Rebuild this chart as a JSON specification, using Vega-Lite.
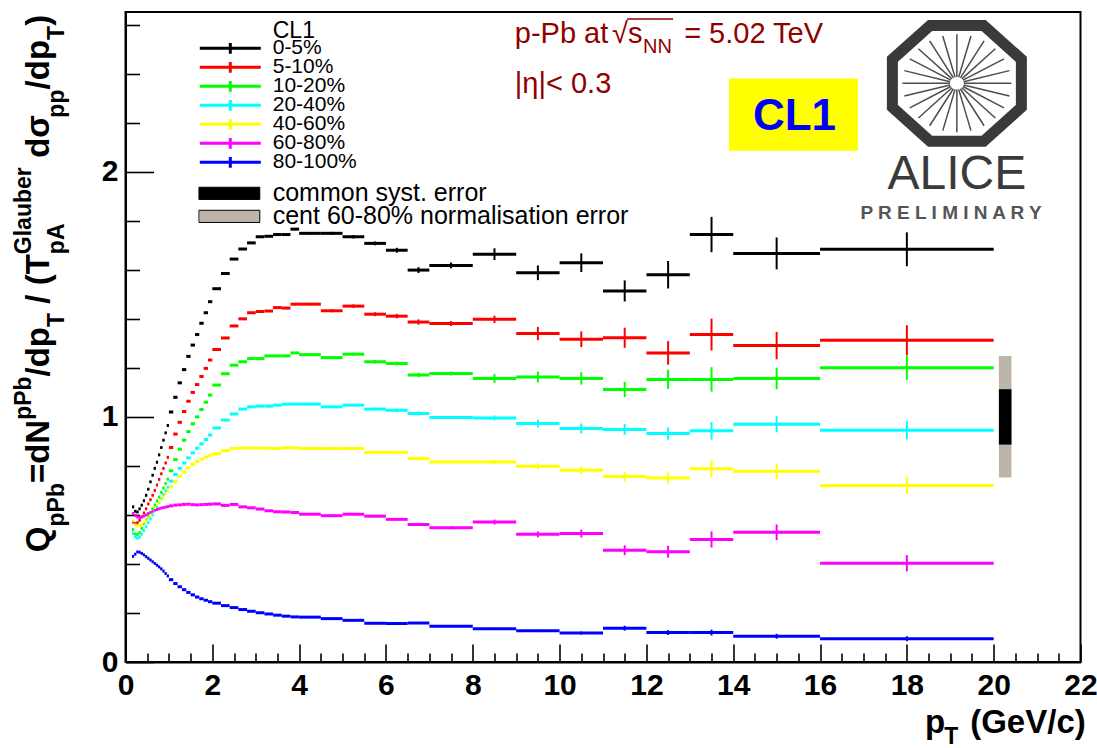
{
"$schema":"https://vega.github.io/schema/vega-lite/v6.json",
"width":955,"height":650,
"autosize":{"type":"none"},
"padding":{"left":125.5,"top":12,"right":16.5,"bottom":86},
"background":"white",
"config":{"font":"Liberation Sans","view":{"stroke":"#000","strokeWidth":2},"axis":{"grid":false,"domainColor":"#000","domainWidth":2,"tickColor":"#000","tickWidth":1.6,"labelColor":"#000"},"legend":{"padding":0}},
"datasets":{"q":[
{"c":"0-5%","x":0.175,"w":0.025,"v":0.633,"e":0.003},
{"c":"0-5%","x":0.225,"w":0.025,"v":0.615,"e":0.003},
{"c":"0-5%","x":0.275,"w":0.025,"v":0.612,"e":0.003},
{"c":"0-5%","x":0.325,"w":0.025,"v":0.625,"e":0.003},
{"c":"0-5%","x":0.375,"w":0.025,"v":0.64,"e":0.003},
{"c":"0-5%","x":0.425,"w":0.025,"v":0.658,"e":0.003},
{"c":"0-5%","x":0.475,"w":0.025,"v":0.68,"e":0.003},
{"c":"0-5%","x":0.525,"w":0.025,"v":0.705,"e":0.003},
{"c":"0-5%","x":0.575,"w":0.025,"v":0.735,"e":0.003},
{"c":"0-5%","x":0.625,"w":0.025,"v":0.762,"e":0.003},
{"c":"0-5%","x":0.675,"w":0.025,"v":0.79,"e":0.003},
{"c":"0-5%","x":0.725,"w":0.025,"v":0.815,"e":0.003},
{"c":"0-5%","x":0.775,"w":0.025,"v":0.845,"e":0.003},
{"c":"0-5%","x":0.825,"w":0.025,"v":0.875,"e":0.003},
{"c":"0-5%","x":0.875,"w":0.025,"v":0.905,"e":0.003},
{"c":"0-5%","x":0.925,"w":0.025,"v":0.935,"e":0.003},
{"c":"0-5%","x":0.975,"w":0.025,"v":0.965,"e":0.003},
{"c":"0-5%","x":1.05,"w":0.05,"v":1.02,"e":0.003},
{"c":"0-5%","x":1.15,"w":0.05,"v":1.08,"e":0.003},
{"c":"0-5%","x":1.25,"w":0.05,"v":1.139,"e":0.003},
{"c":"0-5%","x":1.35,"w":0.05,"v":1.193,"e":0.003},
{"c":"0-5%","x":1.45,"w":0.05,"v":1.247,"e":0.003},
{"c":"0-5%","x":1.55,"w":0.05,"v":1.293,"e":0.003},
{"c":"0-5%","x":1.65,"w":0.05,"v":1.336,"e":0.003},
{"c":"0-5%","x":1.75,"w":0.05,"v":1.382,"e":0.003},
{"c":"0-5%","x":1.85,"w":0.05,"v":1.425,"e":0.003},
{"c":"0-5%","x":1.95,"w":0.05,"v":1.47,"e":0.003},
{"c":"0-5%","x":2.1,"w":0.1,"v":1.523,"e":0.003},
{"c":"0-5%","x":2.3,"w":0.1,"v":1.585,"e":0.003},
{"c":"0-5%","x":2.5,"w":0.1,"v":1.644,"e":0.003},
{"c":"0-5%","x":2.7,"w":0.1,"v":1.685,"e":0.003},
{"c":"0-5%","x":2.9,"w":0.1,"v":1.71,"e":0.003},
{"c":"0-5%","x":3.1,"w":0.1,"v":1.735,"e":0.003},
{"c":"0-5%","x":3.3,"w":0.1,"v":1.737,"e":0.003},
{"c":"0-5%","x":3.5,"w":0.1,"v":1.744,"e":0.003},
{"c":"0-5%","x":3.7,"w":0.1,"v":1.744,"e":0.003},
{"c":"0-5%","x":3.9,"w":0.1,"v":1.766,"e":0.004},
{"c":"0-5%","x":4.25,"w":0.25,"v":1.749,"e":0.005},
{"c":"0-5%","x":4.75,"w":0.25,"v":1.749,"e":0.006},
{"c":"0-5%","x":5.25,"w":0.25,"v":1.735,"e":0.007},
{"c":"0-5%","x":5.75,"w":0.25,"v":1.708,"e":0.008},
{"c":"0-5%","x":6.25,"w":0.25,"v":1.68,"e":0.01},
{"c":"0-5%","x":6.75,"w":0.25,"v":1.599,"e":0.012},
{"c":"0-5%","x":7.5,"w":0.5,"v":1.618,"e":0.012},
{"c":"0-5%","x":8.5,"w":0.5,"v":1.664,"e":0.024},
{"c":"0-5%","x":9.5,"w":0.5,"v":1.588,"e":0.03},
{"c":"0-5%","x":10.5,"w":0.5,"v":1.629,"e":0.038},
{"c":"0-5%","x":11.5,"w":0.5,"v":1.514,"e":0.043},
{"c":"0-5%","x":12.5,"w":0.5,"v":1.58,"e":0.056},
{"c":"0-5%","x":13.5,"w":0.5,"v":1.744,"e":0.072},
{"c":"0-5%","x":15,"w":1,"v":1.667,"e":0.065},
{"c":"0-5%","x":18,"w":2,"v":1.684,"e":0.069},
{"c":"5-10%","x":0.175,"w":0.025,"v":0.571,"e":0.003},
{"c":"5-10%","x":0.225,"w":0.025,"v":0.565,"e":0.003},
{"c":"5-10%","x":0.275,"w":0.025,"v":0.568,"e":0.003},
{"c":"5-10%","x":0.325,"w":0.025,"v":0.578,"e":0.003},
{"c":"5-10%","x":0.375,"w":0.025,"v":0.592,"e":0.003},
{"c":"5-10%","x":0.425,"w":0.025,"v":0.608,"e":0.003},
{"c":"5-10%","x":0.475,"w":0.025,"v":0.625,"e":0.003},
{"c":"5-10%","x":0.525,"w":0.025,"v":0.645,"e":0.003},
{"c":"5-10%","x":0.575,"w":0.025,"v":0.662,"e":0.003},
{"c":"5-10%","x":0.625,"w":0.025,"v":0.68,"e":0.003},
{"c":"5-10%","x":0.675,"w":0.025,"v":0.7,"e":0.003},
{"c":"5-10%","x":0.725,"w":0.025,"v":0.722,"e":0.003},
{"c":"5-10%","x":0.775,"w":0.025,"v":0.745,"e":0.003},
{"c":"5-10%","x":0.825,"w":0.025,"v":0.768,"e":0.003},
{"c":"5-10%","x":0.875,"w":0.025,"v":0.79,"e":0.003},
{"c":"5-10%","x":0.925,"w":0.025,"v":0.812,"e":0.003},
{"c":"5-10%","x":0.975,"w":0.025,"v":0.835,"e":0.003},
{"c":"5-10%","x":1.05,"w":0.05,"v":0.875,"e":0.003},
{"c":"5-10%","x":1.15,"w":0.05,"v":0.93,"e":0.003},
{"c":"5-10%","x":1.25,"w":0.05,"v":0.978,"e":0.003},
{"c":"5-10%","x":1.35,"w":0.05,"v":1.022,"e":0.003},
{"c":"5-10%","x":1.45,"w":0.05,"v":1.064,"e":0.003},
{"c":"5-10%","x":1.55,"w":0.05,"v":1.1,"e":0.003},
{"c":"5-10%","x":1.65,"w":0.05,"v":1.132,"e":0.003},
{"c":"5-10%","x":1.75,"w":0.05,"v":1.165,"e":0.003},
{"c":"5-10%","x":1.85,"w":0.05,"v":1.198,"e":0.003},
{"c":"5-10%","x":1.95,"w":0.05,"v":1.232,"e":0.003},
{"c":"5-10%","x":2.1,"w":0.1,"v":1.275,"e":0.003},
{"c":"5-10%","x":2.3,"w":0.1,"v":1.322,"e":0.003},
{"c":"5-10%","x":2.5,"w":0.1,"v":1.371,"e":0.003},
{"c":"5-10%","x":2.7,"w":0.1,"v":1.4,"e":0.003},
{"c":"5-10%","x":2.9,"w":0.1,"v":1.425,"e":0.003},
{"c":"5-10%","x":3.1,"w":0.1,"v":1.43,"e":0.003},
{"c":"5-10%","x":3.3,"w":0.1,"v":1.432,"e":0.003},
{"c":"5-10%","x":3.5,"w":0.1,"v":1.446,"e":0.003},
{"c":"5-10%","x":3.7,"w":0.1,"v":1.444,"e":0.003},
{"c":"5-10%","x":3.9,"w":0.1,"v":1.46,"e":0.004},
{"c":"5-10%","x":4.25,"w":0.25,"v":1.46,"e":0.005},
{"c":"5-10%","x":4.75,"w":0.25,"v":1.433,"e":0.006},
{"c":"5-10%","x":5.25,"w":0.25,"v":1.452,"e":0.007},
{"c":"5-10%","x":5.75,"w":0.25,"v":1.419,"e":0.008},
{"c":"5-10%","x":6.25,"w":0.25,"v":1.411,"e":0.009},
{"c":"5-10%","x":6.75,"w":0.25,"v":1.387,"e":0.011},
{"c":"5-10%","x":7.5,"w":0.5,"v":1.381,"e":0.01},
{"c":"5-10%","x":8.5,"w":0.5,"v":1.398,"e":0.015},
{"c":"5-10%","x":9.5,"w":0.5,"v":1.34,"e":0.027},
{"c":"5-10%","x":10.5,"w":0.5,"v":1.317,"e":0.032},
{"c":"5-10%","x":11.5,"w":0.5,"v":1.323,"e":0.041},
{"c":"5-10%","x":12.5,"w":0.5,"v":1.261,"e":0.048},
{"c":"5-10%","x":13.5,"w":0.5,"v":1.336,"e":0.065},
{"c":"5-10%","x":15,"w":1,"v":1.291,"e":0.056},
{"c":"5-10%","x":18,"w":2,"v":1.313,"e":0.061},
{"c":"10-20%","x":0.175,"w":0.025,"v":0.54,"e":0.003},
{"c":"10-20%","x":0.225,"w":0.025,"v":0.522,"e":0.003},
{"c":"10-20%","x":0.275,"w":0.025,"v":0.52,"e":0.003},
{"c":"10-20%","x":0.325,"w":0.025,"v":0.528,"e":0.003},
{"c":"10-20%","x":0.375,"w":0.025,"v":0.545,"e":0.003},
{"c":"10-20%","x":0.425,"w":0.025,"v":0.565,"e":0.003},
{"c":"10-20%","x":0.475,"w":0.025,"v":0.58,"e":0.003},
{"c":"10-20%","x":0.525,"w":0.025,"v":0.595,"e":0.003},
{"c":"10-20%","x":0.575,"w":0.025,"v":0.61,"e":0.003},
{"c":"10-20%","x":0.625,"w":0.025,"v":0.625,"e":0.003},
{"c":"10-20%","x":0.675,"w":0.025,"v":0.64,"e":0.003},
{"c":"10-20%","x":0.725,"w":0.025,"v":0.657,"e":0.003},
{"c":"10-20%","x":0.775,"w":0.025,"v":0.673,"e":0.003},
{"c":"10-20%","x":0.825,"w":0.025,"v":0.692,"e":0.003},
{"c":"10-20%","x":0.875,"w":0.025,"v":0.71,"e":0.003},
{"c":"10-20%","x":0.925,"w":0.025,"v":0.728,"e":0.003},
{"c":"10-20%","x":0.975,"w":0.025,"v":0.746,"e":0.003},
{"c":"10-20%","x":1.05,"w":0.05,"v":0.78,"e":0.003},
{"c":"10-20%","x":1.15,"w":0.05,"v":0.826,"e":0.003},
{"c":"10-20%","x":1.25,"w":0.05,"v":0.868,"e":0.003},
{"c":"10-20%","x":1.35,"w":0.05,"v":0.905,"e":0.003},
{"c":"10-20%","x":1.45,"w":0.05,"v":0.94,"e":0.003},
{"c":"10-20%","x":1.55,"w":0.05,"v":0.972,"e":0.003},
{"c":"10-20%","x":1.65,"w":0.05,"v":1.0,"e":0.003},
{"c":"10-20%","x":1.75,"w":0.05,"v":1.03,"e":0.003},
{"c":"10-20%","x":1.85,"w":0.05,"v":1.06,"e":0.003},
{"c":"10-20%","x":1.95,"w":0.05,"v":1.089,"e":0.003},
{"c":"10-20%","x":2.1,"w":0.1,"v":1.13,"e":0.003},
{"c":"10-20%","x":2.3,"w":0.1,"v":1.176,"e":0.003},
{"c":"10-20%","x":2.5,"w":0.1,"v":1.211,"e":0.003},
{"c":"10-20%","x":2.7,"w":0.1,"v":1.225,"e":0.003},
{"c":"10-20%","x":2.9,"w":0.1,"v":1.238,"e":0.003},
{"c":"10-20%","x":3.1,"w":0.1,"v":1.238,"e":0.003},
{"c":"10-20%","x":3.3,"w":0.1,"v":1.249,"e":0.003},
{"c":"10-20%","x":3.5,"w":0.1,"v":1.249,"e":0.003},
{"c":"10-20%","x":3.7,"w":0.1,"v":1.249,"e":0.003},
{"c":"10-20%","x":3.9,"w":0.1,"v":1.261,"e":0.003},
{"c":"10-20%","x":4.25,"w":0.25,"v":1.254,"e":0.004},
{"c":"10-20%","x":4.75,"w":0.25,"v":1.242,"e":0.005},
{"c":"10-20%","x":5.25,"w":0.25,"v":1.256,"e":0.006},
{"c":"10-20%","x":5.75,"w":0.25,"v":1.225,"e":0.007},
{"c":"10-20%","x":6.25,"w":0.25,"v":1.218,"e":0.008},
{"c":"10-20%","x":6.75,"w":0.25,"v":1.171,"e":0.009},
{"c":"10-20%","x":7.5,"w":0.5,"v":1.177,"e":0.008},
{"c":"10-20%","x":8.5,"w":0.5,"v":1.157,"e":0.018},
{"c":"10-20%","x":9.5,"w":0.5,"v":1.163,"e":0.022},
{"c":"10-20%","x":10.5,"w":0.5,"v":1.157,"e":0.025},
{"c":"10-20%","x":11.5,"w":0.5,"v":1.112,"e":0.031},
{"c":"10-20%","x":12.5,"w":0.5,"v":1.153,"e":0.039},
{"c":"10-20%","x":13.5,"w":0.5,"v":1.153,"e":0.05},
{"c":"10-20%","x":15,"w":1,"v":1.157,"e":0.044},
{"c":"10-20%","x":18,"w":2,"v":1.201,"e":0.05},
{"c":"20-40%","x":0.175,"w":0.025,"v":0.525,"e":0.003},
{"c":"20-40%","x":0.225,"w":0.025,"v":0.51,"e":0.003},
{"c":"20-40%","x":0.275,"w":0.025,"v":0.505,"e":0.003},
{"c":"20-40%","x":0.325,"w":0.025,"v":0.51,"e":0.003},
{"c":"20-40%","x":0.375,"w":0.025,"v":0.522,"e":0.003},
{"c":"20-40%","x":0.425,"w":0.025,"v":0.537,"e":0.003},
{"c":"20-40%","x":0.475,"w":0.025,"v":0.552,"e":0.003},
{"c":"20-40%","x":0.525,"w":0.025,"v":0.568,"e":0.003},
{"c":"20-40%","x":0.575,"w":0.025,"v":0.584,"e":0.003},
{"c":"20-40%","x":0.625,"w":0.025,"v":0.6,"e":0.003},
{"c":"20-40%","x":0.675,"w":0.025,"v":0.617,"e":0.003},
{"c":"20-40%","x":0.725,"w":0.025,"v":0.633,"e":0.003},
{"c":"20-40%","x":0.775,"w":0.025,"v":0.65,"e":0.003},
{"c":"20-40%","x":0.825,"w":0.025,"v":0.667,"e":0.003},
{"c":"20-40%","x":0.875,"w":0.025,"v":0.683,"e":0.003},
{"c":"20-40%","x":0.925,"w":0.025,"v":0.698,"e":0.003},
{"c":"20-40%","x":0.975,"w":0.025,"v":0.713,"e":0.003},
{"c":"20-40%","x":1.05,"w":0.05,"v":0.738,"e":0.003},
{"c":"20-40%","x":1.15,"w":0.05,"v":0.765,"e":0.003},
{"c":"20-40%","x":1.25,"w":0.05,"v":0.79,"e":0.003},
{"c":"20-40%","x":1.35,"w":0.05,"v":0.812,"e":0.003},
{"c":"20-40%","x":1.45,"w":0.05,"v":0.833,"e":0.003},
{"c":"20-40%","x":1.55,"w":0.05,"v":0.853,"e":0.003},
{"c":"20-40%","x":1.65,"w":0.05,"v":0.872,"e":0.003},
{"c":"20-40%","x":1.75,"w":0.05,"v":0.89,"e":0.003},
{"c":"20-40%","x":1.85,"w":0.05,"v":0.908,"e":0.003},
{"c":"20-40%","x":1.95,"w":0.05,"v":0.926,"e":0.003},
{"c":"20-40%","x":2.1,"w":0.1,"v":0.955,"e":0.003},
{"c":"20-40%","x":2.3,"w":0.1,"v":0.987,"e":0.003},
{"c":"20-40%","x":2.5,"w":0.1,"v":1.012,"e":0.003},
{"c":"20-40%","x":2.7,"w":0.1,"v":1.032,"e":0.003},
{"c":"20-40%","x":2.9,"w":0.1,"v":1.041,"e":0.003},
{"c":"20-40%","x":3.1,"w":0.1,"v":1.044,"e":0.003},
{"c":"20-40%","x":3.3,"w":0.1,"v":1.044,"e":0.003},
{"c":"20-40%","x":3.5,"w":0.1,"v":1.048,"e":0.003},
{"c":"20-40%","x":3.7,"w":0.1,"v":1.052,"e":0.003},
{"c":"20-40%","x":3.9,"w":0.1,"v":1.052,"e":0.003},
{"c":"20-40%","x":4.25,"w":0.25,"v":1.052,"e":0.004},
{"c":"20-40%","x":4.75,"w":0.25,"v":1.041,"e":0.004},
{"c":"20-40%","x":5.25,"w":0.25,"v":1.048,"e":0.005},
{"c":"20-40%","x":5.75,"w":0.25,"v":1.032,"e":0.006},
{"c":"20-40%","x":6.25,"w":0.25,"v":1.027,"e":0.007},
{"c":"20-40%","x":6.75,"w":0.25,"v":1.014,"e":0.008},
{"c":"20-40%","x":7.5,"w":0.5,"v":0.998,"e":0.006},
{"c":"20-40%","x":8.5,"w":0.5,"v":0.996,"e":0.01},
{"c":"20-40%","x":9.5,"w":0.5,"v":0.973,"e":0.016},
{"c":"20-40%","x":10.5,"w":0.5,"v":0.953,"e":0.02},
{"c":"20-40%","x":11.5,"w":0.5,"v":0.949,"e":0.022},
{"c":"20-40%","x":12.5,"w":0.5,"v":0.932,"e":0.025},
{"c":"20-40%","x":13.5,"w":0.5,"v":0.943,"e":0.036},
{"c":"20-40%","x":15,"w":1,"v":0.97,"e":0.033},
{"c":"20-40%","x":18,"w":2,"v":0.946,"e":0.038},
{"c":"40-60%","x":0.175,"w":0.025,"v":0.575,"e":0.003},
{"c":"40-60%","x":0.225,"w":0.025,"v":0.562,"e":0.003},
{"c":"40-60%","x":0.275,"w":0.025,"v":0.555,"e":0.003},
{"c":"40-60%","x":0.325,"w":0.025,"v":0.556,"e":0.003},
{"c":"40-60%","x":0.375,"w":0.025,"v":0.56,"e":0.003},
{"c":"40-60%","x":0.425,"w":0.025,"v":0.568,"e":0.003},
{"c":"40-60%","x":0.475,"w":0.025,"v":0.578,"e":0.003},
{"c":"40-60%","x":0.525,"w":0.025,"v":0.59,"e":0.003},
{"c":"40-60%","x":0.575,"w":0.025,"v":0.602,"e":0.003},
{"c":"40-60%","x":0.625,"w":0.025,"v":0.615,"e":0.003},
{"c":"40-60%","x":0.675,"w":0.025,"v":0.628,"e":0.003},
{"c":"40-60%","x":0.725,"w":0.025,"v":0.64,"e":0.003},
{"c":"40-60%","x":0.775,"w":0.025,"v":0.652,"e":0.003},
{"c":"40-60%","x":0.825,"w":0.025,"v":0.664,"e":0.003},
{"c":"40-60%","x":0.875,"w":0.025,"v":0.675,"e":0.003},
{"c":"40-60%","x":0.925,"w":0.025,"v":0.686,"e":0.003},
{"c":"40-60%","x":0.975,"w":0.025,"v":0.697,"e":0.003},
{"c":"40-60%","x":1.05,"w":0.05,"v":0.715,"e":0.003},
{"c":"40-60%","x":1.15,"w":0.05,"v":0.737,"e":0.003},
{"c":"40-60%","x":1.25,"w":0.05,"v":0.757,"e":0.003},
{"c":"40-60%","x":1.35,"w":0.05,"v":0.776,"e":0.003},
{"c":"40-60%","x":1.45,"w":0.05,"v":0.792,"e":0.003},
{"c":"40-60%","x":1.55,"w":0.05,"v":0.806,"e":0.003},
{"c":"40-60%","x":1.65,"w":0.05,"v":0.818,"e":0.003},
{"c":"40-60%","x":1.75,"w":0.05,"v":0.828,"e":0.003},
{"c":"40-60%","x":1.85,"w":0.05,"v":0.836,"e":0.003},
{"c":"40-60%","x":1.95,"w":0.05,"v":0.843,"e":0.003},
{"c":"40-60%","x":2.1,"w":0.1,"v":0.85,"e":0.003},
{"c":"40-60%","x":2.3,"w":0.1,"v":0.862,"e":0.003},
{"c":"40-60%","x":2.5,"w":0.1,"v":0.871,"e":0.003},
{"c":"40-60%","x":2.7,"w":0.1,"v":0.873,"e":0.003},
{"c":"40-60%","x":2.9,"w":0.1,"v":0.873,"e":0.003},
{"c":"40-60%","x":3.1,"w":0.1,"v":0.873,"e":0.003},
{"c":"40-60%","x":3.3,"w":0.1,"v":0.872,"e":0.003},
{"c":"40-60%","x":3.5,"w":0.1,"v":0.871,"e":0.003},
{"c":"40-60%","x":3.7,"w":0.1,"v":0.874,"e":0.003},
{"c":"40-60%","x":3.9,"w":0.1,"v":0.874,"e":0.003},
{"c":"40-60%","x":4.25,"w":0.25,"v":0.871,"e":0.003},
{"c":"40-60%","x":4.75,"w":0.25,"v":0.871,"e":0.004},
{"c":"40-60%","x":5.25,"w":0.25,"v":0.871,"e":0.004},
{"c":"40-60%","x":5.75,"w":0.25,"v":0.855,"e":0.005},
{"c":"40-60%","x":6.25,"w":0.25,"v":0.855,"e":0.006},
{"c":"40-60%","x":6.75,"w":0.25,"v":0.83,"e":0.007},
{"c":"40-60%","x":7.5,"w":0.5,"v":0.816,"e":0.005},
{"c":"40-60%","x":8.5,"w":0.5,"v":0.816,"e":0.008},
{"c":"40-60%","x":9.5,"w":0.5,"v":0.799,"e":0.012},
{"c":"40-60%","x":10.5,"w":0.5,"v":0.782,"e":0.015},
{"c":"40-60%","x":11.5,"w":0.5,"v":0.757,"e":0.02},
{"c":"40-60%","x":12.5,"w":0.5,"v":0.751,"e":0.022},
{"c":"40-60%","x":13.5,"w":0.5,"v":0.788,"e":0.036},
{"c":"40-60%","x":15,"w":1,"v":0.778,"e":0.033},
{"c":"40-60%","x":18,"w":2,"v":0.72,"e":0.035},
{"c":"60-80%","x":0.175,"w":0.025,"v":0.606,"e":0.003},
{"c":"60-80%","x":0.225,"w":0.025,"v":0.598,"e":0.003},
{"c":"60-80%","x":0.275,"w":0.025,"v":0.592,"e":0.003},
{"c":"60-80%","x":0.325,"w":0.025,"v":0.59,"e":0.003},
{"c":"60-80%","x":0.375,"w":0.025,"v":0.592,"e":0.003},
{"c":"60-80%","x":0.425,"w":0.025,"v":0.595,"e":0.003},
{"c":"60-80%","x":0.475,"w":0.025,"v":0.6,"e":0.003},
{"c":"60-80%","x":0.525,"w":0.025,"v":0.606,"e":0.003},
{"c":"60-80%","x":0.575,"w":0.025,"v":0.61,"e":0.003},
{"c":"60-80%","x":0.625,"w":0.025,"v":0.615,"e":0.003},
{"c":"60-80%","x":0.675,"w":0.025,"v":0.619,"e":0.003},
{"c":"60-80%","x":0.725,"w":0.025,"v":0.622,"e":0.003},
{"c":"60-80%","x":0.775,"w":0.025,"v":0.625,"e":0.003},
{"c":"60-80%","x":0.825,"w":0.025,"v":0.628,"e":0.003},
{"c":"60-80%","x":0.875,"w":0.025,"v":0.63,"e":0.003},
{"c":"60-80%","x":0.925,"w":0.025,"v":0.632,"e":0.003},
{"c":"60-80%","x":0.975,"w":0.025,"v":0.634,"e":0.003},
{"c":"60-80%","x":1.05,"w":0.05,"v":0.637,"e":0.003},
{"c":"60-80%","x":1.15,"w":0.05,"v":0.64,"e":0.003},
{"c":"60-80%","x":1.25,"w":0.05,"v":0.641,"e":0.003},
{"c":"60-80%","x":1.35,"w":0.05,"v":0.643,"e":0.003},
{"c":"60-80%","x":1.45,"w":0.05,"v":0.644,"e":0.003},
{"c":"60-80%","x":1.55,"w":0.05,"v":0.642,"e":0.003},
{"c":"60-80%","x":1.65,"w":0.05,"v":0.641,"e":0.003},
{"c":"60-80%","x":1.75,"w":0.05,"v":0.642,"e":0.003},
{"c":"60-80%","x":1.85,"w":0.05,"v":0.643,"e":0.003},
{"c":"60-80%","x":1.95,"w":0.05,"v":0.644,"e":0.003},
{"c":"60-80%","x":2.1,"w":0.1,"v":0.645,"e":0.003},
{"c":"60-80%","x":2.3,"w":0.1,"v":0.639,"e":0.003},
{"c":"60-80%","x":2.5,"w":0.1,"v":0.643,"e":0.003},
{"c":"60-80%","x":2.7,"w":0.1,"v":0.633,"e":0.003},
{"c":"60-80%","x":2.9,"w":0.1,"v":0.629,"e":0.003},
{"c":"60-80%","x":3.1,"w":0.1,"v":0.624,"e":0.003},
{"c":"60-80%","x":3.3,"w":0.1,"v":0.617,"e":0.003},
{"c":"60-80%","x":3.5,"w":0.1,"v":0.613,"e":0.003},
{"c":"60-80%","x":3.7,"w":0.1,"v":0.612,"e":0.003},
{"c":"60-80%","x":3.9,"w":0.1,"v":0.61,"e":0.003},
{"c":"60-80%","x":4.25,"w":0.25,"v":0.603,"e":0.003},
{"c":"60-80%","x":4.75,"w":0.25,"v":0.597,"e":0.003},
{"c":"60-80%","x":5.25,"w":0.25,"v":0.603,"e":0.004},
{"c":"60-80%","x":5.75,"w":0.25,"v":0.595,"e":0.004},
{"c":"60-80%","x":6.25,"w":0.25,"v":0.582,"e":0.005},
{"c":"60-80%","x":6.75,"w":0.25,"v":0.561,"e":0.006},
{"c":"60-80%","x":7.5,"w":0.5,"v":0.548,"e":0.006},
{"c":"60-80%","x":8.5,"w":0.5,"v":0.571,"e":0.01},
{"c":"60-80%","x":9.5,"w":0.5,"v":0.521,"e":0.012},
{"c":"60-80%","x":10.5,"w":0.5,"v":0.524,"e":0.016},
{"c":"60-80%","x":11.5,"w":0.5,"v":0.456,"e":0.02},
{"c":"60-80%","x":12.5,"w":0.5,"v":0.45,"e":0.024},
{"c":"60-80%","x":13.5,"w":0.5,"v":0.5,"e":0.033},
{"c":"60-80%","x":15,"w":1,"v":0.529,"e":0.032},
{"c":"60-80%","x":18,"w":2,"v":0.403,"e":0.033},
{"c":"80-100%","x":0.175,"w":0.025,"v":0.431,"e":0.002},
{"c":"80-100%","x":0.225,"w":0.025,"v":0.44,"e":0.002},
{"c":"80-100%","x":0.275,"w":0.025,"v":0.449,"e":0.002},
{"c":"80-100%","x":0.325,"w":0.025,"v":0.448,"e":0.002},
{"c":"80-100%","x":0.375,"w":0.025,"v":0.443,"e":0.002},
{"c":"80-100%","x":0.425,"w":0.025,"v":0.437,"e":0.002},
{"c":"80-100%","x":0.475,"w":0.025,"v":0.43,"e":0.002},
{"c":"80-100%","x":0.525,"w":0.025,"v":0.423,"e":0.002},
{"c":"80-100%","x":0.575,"w":0.025,"v":0.416,"e":0.002},
{"c":"80-100%","x":0.625,"w":0.025,"v":0.409,"e":0.002},
{"c":"80-100%","x":0.675,"w":0.025,"v":0.402,"e":0.002},
{"c":"80-100%","x":0.725,"w":0.025,"v":0.395,"e":0.002},
{"c":"80-100%","x":0.775,"w":0.025,"v":0.388,"e":0.002},
{"c":"80-100%","x":0.825,"w":0.025,"v":0.38,"e":0.002},
{"c":"80-100%","x":0.875,"w":0.025,"v":0.371,"e":0.002},
{"c":"80-100%","x":0.925,"w":0.025,"v":0.361,"e":0.002},
{"c":"80-100%","x":0.975,"w":0.025,"v":0.351,"e":0.002},
{"c":"80-100%","x":1.05,"w":0.05,"v":0.336,"e":0.002},
{"c":"80-100%","x":1.15,"w":0.05,"v":0.32,"e":0.002},
{"c":"80-100%","x":1.25,"w":0.05,"v":0.307,"e":0.002},
{"c":"80-100%","x":1.35,"w":0.05,"v":0.295,"e":0.002},
{"c":"80-100%","x":1.45,"w":0.05,"v":0.284,"e":0.002},
{"c":"80-100%","x":1.55,"w":0.05,"v":0.274,"e":0.002},
{"c":"80-100%","x":1.65,"w":0.05,"v":0.265,"e":0.002},
{"c":"80-100%","x":1.75,"w":0.05,"v":0.258,"e":0.002},
{"c":"80-100%","x":1.85,"w":0.05,"v":0.252,"e":0.002},
{"c":"80-100%","x":1.95,"w":0.05,"v":0.246,"e":0.002},
{"c":"80-100%","x":2.1,"w":0.1,"v":0.24,"e":0.002},
{"c":"80-100%","x":2.3,"w":0.1,"v":0.23,"e":0.002},
{"c":"80-100%","x":2.5,"w":0.1,"v":0.222,"e":0.002},
{"c":"80-100%","x":2.7,"w":0.1,"v":0.214,"e":0.002},
{"c":"80-100%","x":2.9,"w":0.1,"v":0.207,"e":0.002},
{"c":"80-100%","x":3.1,"w":0.1,"v":0.201,"e":0.002},
{"c":"80-100%","x":3.3,"w":0.1,"v":0.196,"e":0.002},
{"c":"80-100%","x":3.5,"w":0.1,"v":0.191,"e":0.002},
{"c":"80-100%","x":3.7,"w":0.1,"v":0.187,"e":0.002},
{"c":"80-100%","x":3.9,"w":0.1,"v":0.184,"e":0.002},
{"c":"80-100%","x":4.25,"w":0.25,"v":0.183,"e":0.002},
{"c":"80-100%","x":4.75,"w":0.25,"v":0.177,"e":0.002},
{"c":"80-100%","x":5.25,"w":0.25,"v":0.17,"e":0.002},
{"c":"80-100%","x":5.75,"w":0.25,"v":0.158,"e":0.002},
{"c":"80-100%","x":6.25,"w":0.25,"v":0.157,"e":0.003},
{"c":"80-100%","x":6.75,"w":0.25,"v":0.159,"e":0.003},
{"c":"80-100%","x":7.5,"w":0.5,"v":0.146,"e":0.003},
{"c":"80-100%","x":8.5,"w":0.5,"v":0.136,"e":0.004},
{"c":"80-100%","x":9.5,"w":0.5,"v":0.127,"e":0.005},
{"c":"80-100%","x":10.5,"w":0.5,"v":0.118,"e":0.006},
{"c":"80-100%","x":11.5,"w":0.5,"v":0.138,"e":0.01},
{"c":"80-100%","x":12.5,"w":0.5,"v":0.12,"e":0.01},
{"c":"80-100%","x":13.5,"w":0.5,"v":0.12,"e":0.012},
{"c":"80-100%","x":15,"w":1,"v":0.105,"e":0.01},
{"c":"80-100%","x":18,"w":2,"v":0.095,"e":0.01}
]},
"data":{"values":[{}]},
"resolve":{"axis":{"x":"independent","y":"independent"}},
"layer":[
{"data":{"values":[
{"k":"cent 60-80% normalisation error","x1":20.12,"x2":20.41,"y1":0.753,"y2":1.248},
{"k":"common syst. error","x1":20.12,"x2":20.41,"y1":0.887,"y2":1.113}]},
"mark":{"type":"rect"},
"encoding":{
"x":{"field":"x1","type":"quantitative","scale":{"domain":[0,22],"nice":false,"zero":false},"axis":{"orient":"bottom","title":null,"values":[0,2,4,6,8,10,12,14,16,18,20,22],"format":"d","ticks":false,"domain":true,"labels":true,"labelFontSize":30,"labelFontWeight":"bold","labelPadding":8,"labelFlush":false,"labelOverlap":false,"labelBound":false,"grid":false}},
"x2":{"field":"x2"},
"y":{"field":"y1","type":"quantitative","scale":{"domain":[0,2.652],"nice":false,"zero":false},"axis":{"orient":"left","title":null,"values":[0,1,2],"format":"d","ticks":false,"domain":true,"labels":true,"labelFontSize":30,"labelFontWeight":"bold","labelPadding":7.5,"labelFlush":false,"labelOverlap":false,"labelBound":false,"grid":false}},
"y2":{"field":"y2"},
"fill":{"field":"k","type":"nominal","scale":{"domain":["common syst. error","cent 60-80% normalisation error"],"range":["#000000","#bdb5aa"]},
"legend":{"title":null,"orient":"none","legendX":72.8,"legendY":172,"symbolType":"M-1,-0.2H1V0.2H-1Z","symbolSize":3721,"symbolStrokeColor":"#000","symbolStrokeWidth":1,"clipHeight":18.7,"rowPadding":-3,"labelFontSize":25,"labelOffset":12.4,"labelLimit":0,"labelColor":"#000"}}}},
{"data":{"name":"q"},
"mark":{"type":"errorbar","thickness":3},
"encoding":{
"x":{"field":"x","type":"quantitative","scale":{"domain":[0,22],"nice":false,"zero":false},"axis":{"orient":"bottom","title":null,"values":[0,2,4,6,8,10,12,14,16,18,20,22],"labels":false,"domain":false,"ticks":true,"tickSize":-18,"grid":false}},
"xError":{"field":"w"},
"y":{"field":"v","type":"quantitative","scale":{"domain":[0,2.652],"nice":false,"zero":false},"axis":{"orient":"left","title":null,"values":[0,1,2],"labels":false,"domain":false,"ticks":true,"tickSize":-28,"grid":false}},
"color":{"field":"c","type":"nominal","scale":{"domain":["0-5%","5-10%","10-20%","20-40%","40-60%","60-80%","80-100%"],"range":["#000000","#ff0000","#00ff00","#00ffff","#ffff00","#ff00ff","#0000ff"]},
"legend":{"title":null,"orient":"none","legendX":72.8,"legendY":27.3,"symbolType":"M-1,0H1M0,-0.175V0.175","symbolSize":3721,"symbolStrokeWidth":3,"clipHeight":18,"rowPadding":-3,"labelFontSize":21,"labelOffset":10.4,"labelLimit":0,"labelColor":"#000"}}}},
{"data":{"name":"q"},
"mark":{"type":"errorbar","thickness":2},
"encoding":{
"x":{"field":"x","type":"quantitative","scale":{"domain":[0,22],"nice":false,"zero":false},"axis":{"orient":"bottom","title":null,"values":[0.5,1,1.5,2.5,3,3.5,4.5,5,5.5,6.5,7,7.5,8.5,9,9.5,10.5,11,11.5,12.5,13,13.5,14.5,15,15.5,16.5,17,17.5,18.5,19,19.5,20.5,21,21.5],"labels":false,"domain":false,"ticks":true,"tickSize":-9,"grid":false}},
"y":{"field":"v","type":"quantitative","scale":{"domain":[0,2.652],"nice":false,"zero":false},"axis":{"orient":"left","title":null,"values":[0.2,0.4,0.6,0.8,1.2,1.4,1.6,1.8,2.2,2.4,2.6],"labels":false,"domain":false,"ticks":true,"tickSize":-14,"grid":false}},
"yError":{"field":"e"},
"color":{"field":"c","type":"nominal","scale":{"domain":["0-5%","5-10%","10-20%","20-40%","40-60%","60-80%","80-100%"],"range":["#000000","#ff0000","#00ff00","#00ffff","#ffff00","#ff00ff","#0000ff"]},
"legend":{"title":null,"orient":"none","legendX":72.8,"legendY":27.3,"symbolType":"M-1,0H1M0,-0.175V0.175","symbolSize":3721,"symbolStrokeWidth":3,"clipHeight":18,"rowPadding":-3,"labelFontSize":21,"labelOffset":10.4,"labelLimit":0,"labelColor":"#000"}}}},

{"mark":{"type":"text","text":"CL1","align":"left","baseline":"alphabetic","fontSize":23,"color":"#000"},"encoding":{"x":{"datum":3.392,"type":"quantitative","axis":null},"y":{"datum":2.545,"type":"quantitative","axis":null}}},

{"mark":{"type":"text","text":"Q","angle":270,"align":"left","baseline":"alphabetic","fontSize":33,"fontWeight":"bold","color":"#000"},"encoding":{"x":{"datum":-1.763,"type":"quantitative","axis":null},"y":{"datum":0.448,"type":"quantitative","axis":null}}},
{"mark":{"type":"text","text":"pPb","angle":270,"align":"left","baseline":"alphabetic","fontSize":23,"fontWeight":"bold","color":"#000"},"encoding":{"x":{"datum":-1.417,"type":"quantitative","axis":null},"y":{"datum":0.553,"type":"quantitative","axis":null}}},
{"mark":{"type":"text","text":"=dN","angle":270,"align":"left","baseline":"alphabetic","fontSize":33,"fontWeight":"bold","color":"#000"},"encoding":{"x":{"datum":-1.763,"type":"quantitative","axis":null},"y":{"datum":0.73,"type":"quantitative","axis":null}}},
{"mark":{"type":"text","text":"pPb","angle":270,"align":"left","baseline":"alphabetic","fontSize":23,"fontWeight":"bold","color":"#000"},"encoding":{"x":{"datum":-2.177,"type":"quantitative","axis":null},"y":{"datum":0.988,"type":"quantitative","axis":null}}},
{"mark":{"type":"text","text":"/dp","angle":270,"align":"left","baseline":"alphabetic","fontSize":33,"fontWeight":"bold","color":"#000"},"encoding":{"x":{"datum":-1.763,"type":"quantitative","axis":null},"y":{"datum":1.165,"type":"quantitative","axis":null}}},
{"mark":{"type":"text","text":"T","angle":270,"align":"left","baseline":"alphabetic","fontSize":23,"fontWeight":"bold","color":"#000"},"encoding":{"x":{"datum":-1.417,"type":"quantitative","axis":null},"y":{"datum":1.367,"type":"quantitative","axis":null}}},
{"mark":{"type":"text","text":"/ (T","angle":270,"align":"left","baseline":"alphabetic","fontSize":33,"fontWeight":"bold","color":"#000"},"encoding":{"x":{"datum":-1.763,"type":"quantitative","axis":null},"y":{"datum":1.462,"type":"quantitative","axis":null}}},
{"mark":{"type":"text","text":"Glauber","angle":270,"align":"left","baseline":"alphabetic","fontSize":23,"fontWeight":"bold","color":"#000"},"encoding":{"x":{"datum":-2.177,"type":"quantitative","axis":null},"y":{"datum":1.664,"type":"quantitative","axis":null}}},
{"mark":{"type":"text","text":"pA","angle":270,"align":"left","baseline":"alphabetic","fontSize":23,"fontWeight":"bold","color":"#000"},"encoding":{"x":{"datum":-1.417,"type":"quantitative","axis":null},"y":{"datum":1.664,"type":"quantitative","axis":null}}},
{"mark":{"type":"text","text":"dσ","angle":270,"align":"left","baseline":"alphabetic","fontSize":33,"fontWeight":"bold","color":"#000"},"encoding":{"x":{"datum":-1.763,"type":"quantitative","axis":null},"y":{"datum":2.057,"type":"quantitative","axis":null}}},
{"mark":{"type":"text","text":"pp","angle":270,"align":"left","baseline":"alphabetic","fontSize":23,"fontWeight":"bold","color":"#000"},"encoding":{"x":{"datum":-1.417,"type":"quantitative","axis":null},"y":{"datum":2.221,"type":"quantitative","axis":null}}},
{"mark":{"type":"text","text":"/dp","angle":270,"align":"left","baseline":"alphabetic","fontSize":33,"fontWeight":"bold","color":"#000"},"encoding":{"x":{"datum":-1.763,"type":"quantitative","axis":null},"y":{"datum":2.336,"type":"quantitative","axis":null}}},
{"mark":{"type":"text","text":"T","angle":270,"align":"left","baseline":"alphabetic","fontSize":23,"fontWeight":"bold","color":"#000"},"encoding":{"x":{"datum":-1.417,"type":"quantitative","axis":null},"y":{"datum":2.538,"type":"quantitative","axis":null}}},
{"mark":{"type":"text","text":")","angle":270,"align":"left","baseline":"alphabetic","fontSize":33,"fontWeight":"bold","color":"#000"},"encoding":{"x":{"datum":-1.763,"type":"quantitative","axis":null},"y":{"datum":2.596,"type":"quantitative","axis":null}}},

{"mark":{"type":"text","text":"p","align":"left","baseline":"alphabetic","fontSize":33,"fontWeight":"bold","color":"#000"},"encoding":{"x":{"datum":18.42,"type":"quantitative","axis":null},"y":{"datum":-0.29,"type":"quantitative","axis":null}}},
{"mark":{"type":"text","text":"T","align":"left","baseline":"alphabetic","fontSize":23,"fontWeight":"bold","color":"#000"},"encoding":{"x":{"datum":18.86,"type":"quantitative","axis":null},"y":{"datum":-0.335,"type":"quantitative","axis":null}}},
{"mark":{"type":"text","text":"(GeV/c)","align":"left","baseline":"alphabetic","fontSize":33,"fontWeight":"bold","color":"#000"},"encoding":{"x":{"datum":19.459,"type":"quantitative","axis":null},"y":{"datum":-0.29,"type":"quantitative","axis":null}}},

{"mark":{"type":"text","text":"p-Pb at","align":"left","baseline":"alphabetic","fontSize":29,"color":"#8f0000"},"encoding":{"x":{"datum":8.968,"type":"quantitative","axis":null},"y":{"datum":2.525,"type":"quantitative","axis":null}}},
{"mark":{"type":"text","text":"√","align":"left","baseline":"alphabetic","fontSize":29,"color":"#8f0000"},"encoding":{"x":{"datum":11.209,"type":"quantitative","axis":null},"y":{"datum":2.525,"type":"quantitative","axis":null}}},
{"mark":{"type":"text","text":"s","align":"left","baseline":"alphabetic","fontSize":29,"color":"#8f0000"},"encoding":{"x":{"datum":11.578,"type":"quantitative","axis":null},"y":{"datum":2.525,"type":"quantitative","axis":null}}},
{"mark":{"type":"text","text":"NN","align":"left","baseline":"alphabetic","fontSize":20,"color":"#8f0000"},"encoding":{"x":{"datum":11.924,"type":"quantitative","axis":null},"y":{"datum":2.484,"type":"quantitative","axis":null}}},
{"mark":{"type":"text","text":"= 5.02 TeV","align":"left","baseline":"alphabetic","fontSize":29,"color":"#8f0000"},"encoding":{"x":{"datum":12.869,"type":"quantitative","axis":null},"y":{"datum":2.525,"type":"quantitative","axis":null}}},
{"mark":{"type":"rule","color":"#8f0000","strokeWidth":1.5},"encoding":{"x":{"datum":11.555,"type":"quantitative","axis":null},"x2":{"datum":12.614},"y":{"datum":2.623,"type":"quantitative","axis":null}}},
{"mark":{"type":"text","text":"|η|< 0.3","align":"left","baseline":"alphabetic","fontSize":29,"color":"#8f0000"},"encoding":{"x":{"datum":8.968,"type":"quantitative","axis":null},"y":{"datum":2.322,"type":"quantitative","axis":null}}},

{"mark":{"type":"rect","color":"#ffff00"},"encoding":{"x":{"datum":13.903,"type":"quantitative","axis":null},"x2":{"datum":16.873},"y":{"datum":2.381,"type":"quantitative","axis":null},"y2":{"datum":2.086}}},
{"mark":{"type":"text","text":"CL1","align":"center","baseline":"alphabetic","fontSize":44,"fontWeight":"bold","color":"#0000ff"},"encoding":{"x":{"datum":15.412,"type":"quantitative","axis":null},"y":{"datum":2.17,"type":"quantitative","axis":null}}},

{"mark":{"type":"point","shape":"M-0.383,-0.83L0.383,-0.83L0.924,-0.344L0.924,0.344L0.383,0.83L-0.383,0.83L-0.924,0.344L-0.924,-0.344Z","size":19488,"filled":false,"stroke":"#3a3a3a","strokeWidth":11,"opacity":1,"strokeOpacity":1},"encoding":{"x":{"datum":19.152,"type":"quantitative","axis":null},"y":{"datum":2.361,"type":"quantitative","axis":null}}},
{"mark":{"type":"point","shape":"M0.78,0L0.1,0M-0.1,0L-0.78,0M0.753,0.182L0.097,0.023M-0.097,-0.023L-0.753,-0.182M0.675,0.351L0.087,0.045M-0.087,-0.045L-0.675,-0.351M0.551,0.496L0.071,0.064M-0.071,-0.064L-0.551,-0.496M0.39,0.608L0.05,0.078M-0.05,-0.078L-0.39,-0.608M0.202,0.678L0.026,0.087M-0.026,-0.087L-0.202,-0.678M0,0.702L0,0.09M0,-0.09L0,-0.702M-0.202,0.678L-0.026,0.087M0.026,-0.087L0.202,-0.678M-0.39,0.608L-0.05,0.078M0.05,-0.078L0.39,-0.608M-0.551,0.496L-0.071,0.064M0.071,-0.064L0.551,-0.496M-0.675,0.351L-0.087,0.045M0.087,-0.045L0.675,-0.351M-0.753,0.182L-0.097,0.023M0.097,-0.023L0.753,-0.182","size":19488,"filled":false,"stroke":"#4d4d4d","strokeWidth":1.5,"opacity":1,"strokeOpacity":1},"encoding":{"x":{"datum":19.152,"type":"quantitative","axis":null},"y":{"datum":2.361,"type":"quantitative","axis":null}}},
{"mark":{"type":"text","text":"ALICE","align":"center","baseline":"alphabetic","fontSize":48,"color":"#3a3a3a"},"encoding":{"x":{"datum":19.152,"type":"quantitative","axis":null},"y":{"datum":1.93,"type":"quantitative","axis":null}}},
{"mark":{"type":"text","text":"P R E L I M I N A R Y","align":"center","baseline":"alphabetic","fontSize":19,"fontWeight":"bold","color":"#555555"},"encoding":{"x":{"datum":19.02,"type":"quantitative","axis":null},"y":{"datum":1.806,"type":"quantitative","axis":null}}}
]
}
